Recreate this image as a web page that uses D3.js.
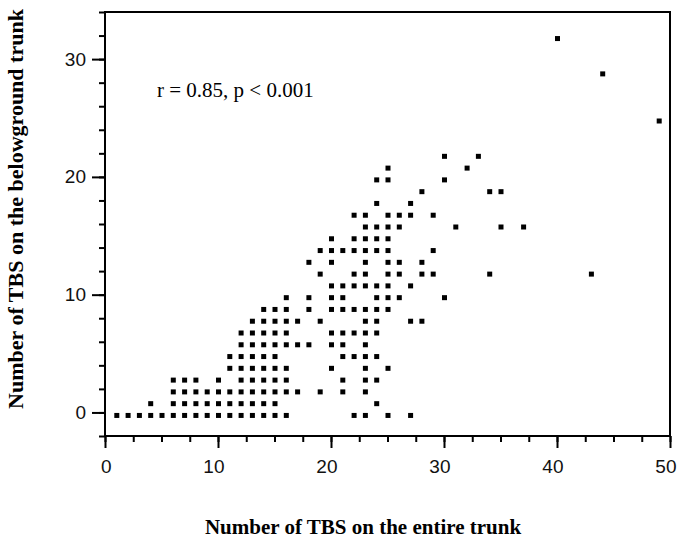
<!DOCTYPE html>
<html>
<head>
<meta charset="utf-8">
<script src="https://cdn.jsdelivr.net/npm/d3@7"></script>
<style>
  body { margin: 0; background: #fff; }
  svg { display: block; }
</style>
</head>
<body>
<div id="chart"></div>
<script>
// TBS counts on the belowground trunk (one entry per row of points)
const belowLevels = [0, 1, 2, 3, 4, 5, 6, 7, 8, 9, 10, 11, 12, 13, 14, 15, 16, 17, 18, 19, 20, 21, 22, 25, 29, 32];
// TBS counts on the entire trunk found at each of those levels
const entireAtLevel = [
    [1, 2, 3, 4, 5, 6, 7, 8, 9, 10, 11, 12, 13, 14, 15, 16, 22, 23, 25, 27],
    [4, 6, 7, 8, 9, 10, 11, 12, 13, 14, 15, 24],
    [6, 7, 8, 9, 10, 11, 12, 13, 14, 15, 16, 17, 19, 21, 23],
    [6, 7, 8, 10, 12, 13, 14, 15, 16, 21, 23, 24],
    [11, 12, 13, 14, 15, 16, 20, 23, 25],
    [11, 12, 13, 14, 15, 21, 22, 23, 24],
    [12, 13, 14, 15, 16, 17, 18, 20, 21, 23],
    [12, 13, 14, 15, 16, 20, 21, 22, 23, 24],
    [13, 14, 15, 16, 17, 19, 23, 24, 27, 28],
    [14, 15, 16, 18, 20, 21, 22, 23, 24, 25],
    [16, 18, 20, 21, 24, 25, 26, 30],
    [20, 21, 22, 23, 24, 25, 27],
    [19, 22, 23, 25, 26, 28, 29, 34, 43],
    [18, 20, 23, 25, 26, 28],
    [19, 20, 21, 22, 23, 24, 25, 29],
    [20, 22, 23, 24, 25],
    [23, 24, 25, 26, 31, 35, 37],
    [22, 23, 25, 26, 27, 29],
    [24, 27],
    [28, 34, 35],
    [24, 25, 30],
    [25, 32],
    [30, 33],
    [49],
    [44],
    [40]
];
const xMajorTicks = [0, 10, 20, 30, 40, 50];
const yMajorTicks = [0, 10, 20, 30];
const annotation = "r = 0.85, p < 0.001";
const xTitle = "Number of TBS on the entire trunk";
const yTitle = "Number of TBS on the belowground trunk";

const points = [];
belowLevels.forEach((lv, i) => {
    entireAtLevel[i].forEach(e => points.push({ x: e, y: lv }));
});

const W = 688, H = 542;
const plot = { left: 105, right: 670, top: 12, bottom: 436 };

const svg = d3.select('#chart')
    .append('svg')
    .attr('width', W)
    .attr('height', H);

const x = d3.scaleLinear().domain([0, 50]).range([plot.left, plot.right]);
const y = d3.scaleLinear().domain([-2, 34]).range([plot.bottom, plot.top]);

const tickFont = '"Liberation Sans", Arial, sans-serif';
const serifFont = '"Liberation Serif", "Times New Roman", serif';

// minor ticks
svg.append('g')
    .attr('transform', `translate(0,${plot.bottom})`)
    .call(d3.axisBottom(x).tickValues(d3.range(0, 50.01, 2.5)).tickSize(6).tickFormat(''))
    .call(g => g.select('.domain').remove())
    .selectAll('line').attr('stroke', '#000').attr('stroke-width', 2);

svg.append('g')
    .attr('transform', `translate(${plot.left},0)`)
    .call(d3.axisLeft(y).tickValues(d3.range(-2, 34.01, 2)).tickSize(6).tickFormat(''))
    .call(g => g.select('.domain').remove())
    .selectAll('line').attr('stroke', '#000').attr('stroke-width', 2);

// major ticks + labels
const xAxis = svg.append('g')
    .attr('transform', `translate(0,${plot.bottom})`)
    .call(d3.axisBottom(x).tickValues(xMajorTicks).tickSize(12).tickPadding(12));
xAxis.select('.domain').remove();
xAxis.selectAll('line').attr('stroke', '#000').attr('stroke-width', 2);
xAxis.selectAll('text')
    .attr('x', 6)
    .attr('text-anchor', 'end')
    .attr('fill', '#111')
    .style('font-family', tickFont)
    .style('font-size', '19px');

const yAxis = svg.append('g')
    .attr('transform', `translate(${plot.left},0)`)
    .call(d3.axisLeft(y).tickValues(yMajorTicks).tickSize(13).tickPadding(6));
yAxis.select('.domain').remove();
yAxis.selectAll('line').attr('stroke', '#000').attr('stroke-width', 2);
yAxis.selectAll('text')
    .attr('fill', '#111')
    .style('font-family', tickFont)
    .style('font-size', '19px');

// frame
svg.append('rect')
    .attr('x', plot.left)
    .attr('y', plot.top)
    .attr('width', plot.right - plot.left)
    .attr('height', plot.bottom - plot.top)
    .attr('fill', 'none')
    .attr('stroke', '#000')
    .attr('stroke-width', 2);

// points (small squares, nudged like the original plot)
const sz = 5;
svg.append('g')
    .selectAll('rect')
    .data(points)
    .enter().append('rect')
    .attr('x', d => x(d.x) + 0.5 - sz / 2)
    .attr('y', d => y(d.y) + 3 - sz / 2)
    .attr('width', sz)
    .attr('height', sz)
    .attr('fill', '#000');

svg.append('text')
    .attr('x', 157)
    .attr('y', 97)
    .style('font-family', serifFont)
    .style('font-size', '21px')
    .text(annotation);

svg.append('text')
    .attr('x', 363)
    .attr('y', 534)
    .attr('text-anchor', 'middle')
    .style('font-family', serifFont)
    .style('font-size', '21px')
    .style('font-weight', 'bold')
    .text(xTitle);

svg.append('text')
    .attr('transform', 'translate(23,209) rotate(-90)')
    .attr('text-anchor', 'middle')
    .style('font-family', serifFont)
    .style('font-size', '22px')
    .style('font-weight', 'bold')
    .text(yTitle);
</script>
</body>
</html>
